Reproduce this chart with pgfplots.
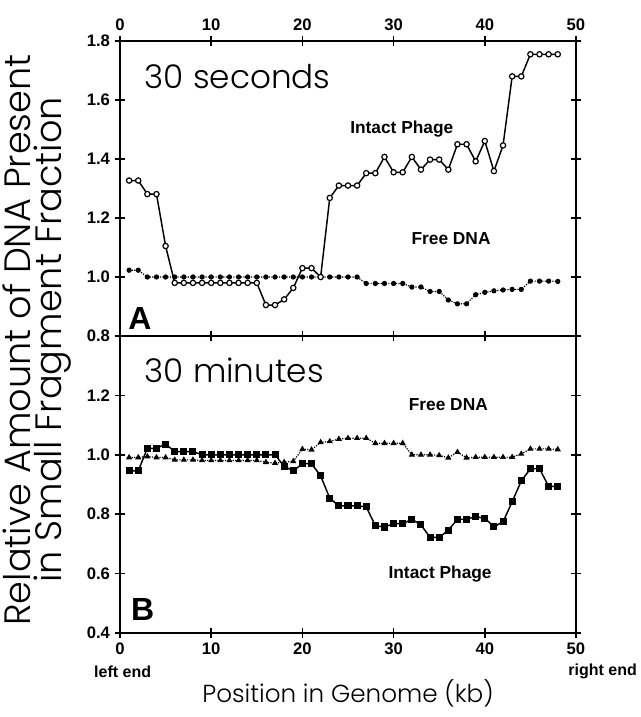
\documentclass[border=0pt]{standalone}
\usepackage{fontspec}
\setmainfont{Liberation Sans}
\newfontfamily\lightfont{Poppins Light}
\usepackage{pgfplots}
\pgfplotsset{compat=1.18}
\begin{document}
\begin{tikzpicture}
\pgfplotsset{
  myaxis/.style={
    scale only axis, width=342pt,
    xmin=0, xmax=50, xtick={0,10,20,30,40,50},
    axis line style={line width=1.3pt},
    every tick/.append style={line width=1.1pt, black},
    tick align=center, major tick length=8pt,
    /pgf/number format/assume math mode=true,
    tick label style={font=\fontsize{12.5}{14}\selectfont\bfseries},
    xtick pos=both, ytick pos=both,
    clip=false,
  },
  phageA/.style={black, line width=1.1pt, mark=*, mark options={solid, fill=white, line width=0.9pt}, mark size=2pt},
  phageB/.style={black, line width=1.1pt, mark=square*, mark options={solid, fill=black}, mark size=2.1pt},
  freeA/.style={black, line width=0.9pt, densely dotted, mark=*, mark options={solid, fill=black}, mark size=1.5pt},
  freeB/.style={black, line width=0.9pt, densely dotted, mark=triangle*, mark options={solid, fill=black}, mark size=1.8pt},
}
% ---------------- top panel -----------------
\begin{axis}[myaxis, at={(0,0)}, anchor=south west, height=221.25pt,
  ymin=0.8, ymax=1.8, ytick={0.8,1.0,1.2,1.4,1.6,1.8},
  yticklabels={0.8,1.0,1.2,1.4,1.6,1.8},
  xticklabels={0,10,20,30,40,50}, xticklabel pos=right, yticklabel pos=left]
\addplot[freeA] coordinates {
(1,1.023)(2,1.023)(3,1.0)(4,1.0)(5,1.0)(6,1.0)(7,1.0)(8,1.0)(9,1.0)(10,1.0)
(11,1.0)(12,1.0)(13,1.0)(14,1.0)(15,1.0)(16,1.0)(17,1.0)(18,1.0)(19,1.0)(20,1.0)
(21,1.0)(22,1.0)(23,1.0)(24,1.0)(25,1.0)(26,1.0)(27,0.978)(28,0.978)(29,0.978)(30,0.978)
(31,0.978)(32,0.966)(33,0.966)(34,0.951)(35,0.951)(36,0.922)(37,0.909)(38,0.909)(39,0.940)(40,0.948)
(41,0.953)(42,0.956)(43,0.958)(44,0.958)(45,0.986)(46,0.986)(47,0.986)(48,0.985)};
\addplot[phageA] coordinates {
(1,1.327)(2,1.327)(3,1.281)(4,1.281)(5,1.105)(6,0.980)(7,0.980)(8,0.980)(9,0.980)(10,0.980)
(11,0.980)(12,0.980)(13,0.980)(14,0.980)(15,0.980)(16,0.905)(17,0.905)(18,0.924)(19,0.963)(20,1.030)
(21,1.030)(22,1.000)(23,1.268)(24,1.310)(25,1.310)(26,1.310)(27,1.352)(28,1.352)(29,1.407)(30,1.355)
(31,1.355)(32,1.407)(33,1.364)(34,1.398)(35,1.398)(36,1.364)(37,1.450)(38,1.450)(39,1.392)(40,1.461)
(41,1.359)(42,1.446)(43,1.680)(44,1.680)(45,1.755)(46,1.755)(47,1.755)(48,1.755)};
\node[anchor=west, inner sep=0, font=\lightfont\fontsize{24.5}{27}\selectfont] at (axis cs:2.7,1.68) {30 seconds};
\node[inner sep=0, font=\fontsize{13}{15}\selectfont\bfseries] at (axis cs:30.9,1.50) {Intact Phage};
\node[inner sep=0, font=\fontsize{13}{15}\selectfont\bfseries] at (axis cs:36.3,1.13) {Free DNA};
\node[anchor=west, inner sep=0, font=\fontsize{24}{26}\selectfont\bfseries] at (axis cs:0.9,0.86) {A};
\end{axis}
% ---------------- bottom panel -----------------
\begin{axis}[myaxis, at={(0,0)}, anchor=north west, height=222.75pt,
  ymin=0.4, ymax=1.4, ytick={0.4,0.6,0.8,1.0,1.2,1.4},
  yticklabels={0.4,0.6,0.8,1.0,1.2,{}},
  xticklabels={0,10,20,30,40,50}, xticklabel pos=left, yticklabel pos=left]
\addplot[freeB] coordinates {
(1,0.991)(2,0.991)(3,0.994)(4,0.991)(5,0.991)(6,0.983)(7,0.983)(8,0.983)(9,0.981)(10,0.981)
(11,0.981)(12,0.981)(13,0.981)(14,0.981)(15,0.981)(16,0.975)(17,0.972)(18,0.975)(19,0.978)(20,1.019)
(21,1.017)(22,1.042)(23,1.045)(24,1.053)(25,1.056)(26,1.056)(27,1.056)(28,1.039)(29,1.039)(30,1.039)
(31,1.039)(32,1.0)(33,1.0)(34,1.0)(35,0.998)(36,0.990)(37,1.009)(38,0.990)(39,0.992)(40,0.992)
(41,0.992)(42,0.992)(43,0.992)(44,1.003)(45,1.020)(46,1.020)(47,1.020)(48,1.018)};
\addplot[phageB] coordinates {
(1,0.946)(2,0.946)(3,1.022)(4,1.022)(5,1.036)(6,1.011)(7,1.011)(8,1.011)(9,1.0)(10,1.0)
(11,1.0)(12,1.0)(13,1.0)(14,1.0)(15,1.0)(16,1.0)(17,1.0)(18,0.961)(19,0.946)(20,0.970)
(21,0.970)(22,0.929)(23,0.854)(24,0.828)(25,0.828)(26,0.828)(27,0.825)(28,0.761)(29,0.757)(30,0.768)
(31,0.768)(32,0.783)(33,0.764)(34,0.722)(35,0.722)(36,0.746)(37,0.783)(38,0.783)(39,0.792)(40,0.786)
(41,0.758)(42,0.774)(43,0.842)(44,0.912)(45,0.953)(46,0.953)(47,0.894)(48,0.894)};
\node[anchor=west, inner sep=0, font=\lightfont\fontsize{24.5}{27}\selectfont] at (axis cs:2.7,1.285) {30 minutes};
\node[inner sep=0, font=\fontsize{13}{15}\selectfont\bfseries] at (axis cs:36,1.17) {Free DNA};
\node[inner sep=0, font=\fontsize{13}{15}\selectfont\bfseries] at (axis cs:35.1,0.60) {Intact Phage};
\node[anchor=west, inner sep=0, font=\fontsize{24}{26}\selectfont\bfseries] at (axis cs:1.2,0.48) {B};
\node[inner sep=0, font=\fontsize{12}{14}\selectfont\bfseries] at ([yshift=-29pt, xshift=2pt]rel axis cs:0,0) {left end};
\node[inner sep=0, font=\fontsize{12}{14}\selectfont\bfseries] at ([yshift=-29pt, xshift=20pt]rel axis cs:1,0) {right end};
\node[inner sep=0, font=\lightfont\fontsize{18.5}{20}\selectfont] at ([yshift=-45pt]rel axis cs:0.5,0) {Position in Genome (kb)};
\end{axis}
\node[rotate=90, align=center, inner sep=0, font=\lightfont\fontsize{27.5}{23}\selectfont] at (-62pt,-3pt) {Relative Amount of DNA Present\\in Small Fragment Fraction};
\pgfresetboundingbox
\useasboundingbox (-90pt,-285.75pt) rectangle (390.75pt,252pt);
\end{tikzpicture}
\end{document}
